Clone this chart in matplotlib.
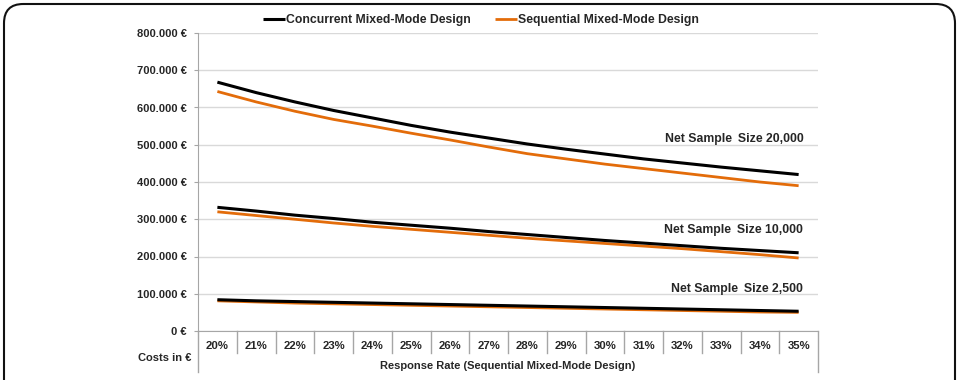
import matplotlib
matplotlib.use('Agg')
import matplotlib.pyplot as plt
from matplotlib.patches import FancyBboxPatch
from matplotlib.ticker import FuncFormatter

plt.rcParams['font.family'] = ['Liberation Sans', 'DejaVu Sans']
plt.rcParams['font.weight'] = 'bold'

# data (costs in thousand euro)
rates = ['20%', '21%', '22%', '23%', '24%', '25%', '26%', '27%',
         '28%', '29%', '30%', '31%', '32%', '33%', '34%', '35%']
conc_20k = [668, 640, 615, 592, 572, 552, 534, 518, 502, 488, 475, 462, 451, 440, 430, 420]
seq_20k  = [643, 615, 590, 568, 550, 531, 513, 494, 476, 462, 448, 436, 424, 412, 400, 390]
conc_10k = [332, 322, 311, 302, 292, 284, 276, 267, 259, 251, 243, 236, 229, 222, 216, 210]
seq_10k  = [320, 310, 300, 290, 281, 273, 265, 257, 249, 242, 235, 228, 221, 213, 205, 196]
conc_2k5 = [84, 81, 79, 77, 75, 73, 71, 69, 67, 65, 63, 61, 59, 57, 55, 53]
seq_2k5  = [81, 78, 75, 73, 71, 69, 67, 65, 63, 61, 59, 57, 55, 53, 51, 50]
groups = [('Net Sample\u2009 Size 20,000', conc_20k, seq_20k),
          ('Net Sample\u2009 Size 10,000', conc_10k, seq_10k),
          ('Net Sample\u2009 Size 2,500', conc_2k5, seq_2k5)]
# how far above the last point each group label sits (euro)
label_lift = [95000, 60000, 61000]

BLACK = '#000000'
ORANGE = '#E36C0A'
TXT = '#262626'
GRAY = '#A6A6A6'

fig = plt.figure(figsize=(9.63, 3.8), dpi=100)
W, H = 963, 380
ax = fig.add_axes([198 / W, 1 - 331 / H, 620 / W, 298 / H])

x = list(range(len(rates)))
for (label, conc, seq), lift in zip(groups, label_lift):
    ax.plot(x, [v * 1000 for v in seq], color=ORANGE, lw=2.0, solid_capstyle='butt', zorder=3)
    ax.plot(x, [v * 1000 for v in conc], color=BLACK, lw=2.2, solid_capstyle='butt', zorder=4)
    ax.text(x[-1] + 0.12, conc[-1] * 1000 + lift, label,
            ha='right', va='center', fontsize=8.8, color=TXT)

ax.set_xlim(-0.5, len(rates) - 0.5)
ax.set_ylim(0, 800000)
ax.set_yticks(range(0, 800001, 100000))
ax.yaxis.set_major_formatter(FuncFormatter(
    lambda v, p: '{:,.0f} €'.format(v).replace(',', '.')))
ax.set_xticks(x)
ax.set_xticklabels(rates)
ax.tick_params(axis='x', length=0, pad=7, labelsize=8.2, labelcolor=TXT)
ax.tick_params(axis='y', length=3, color=GRAY, pad=5, labelsize=8, labelcolor=TXT)

ax.grid(axis='y', color='#D9D9D9', lw=1)
ax.set_axisbelow(True)
for s in ['top', 'right']:
    ax.spines[s].set_visible(False)
ax.spines['left'].set_color(GRAY)
ax.spines['bottom'].set_color(GRAY)

# table-like category separators under the axis
tr = ax.get_xaxis_transform()
for i in range(1, len(rates)):
    ax.plot([i - 0.5, i - 0.5], [0, -0.074], color=GRAY, lw=1, transform=tr, clip_on=False)
ax.plot([-0.5, -0.5], [0, -0.138], color=GRAY, lw=1, transform=tr, clip_on=False)
ax.plot([len(rates) - 0.5] * 2, [0, -0.138], color=GRAY, lw=1, transform=tr, clip_on=False)

fig.text(191 / W, 1 - 358 / H, 'Costs in €', ha='right', va='center', fontsize=8, color=TXT)
fig.text(508 / W, 1 - 366 / H, 'Response Rate (Sequential Mixed-Mode Design)',
         ha='center', va='center', fontsize=8, color=TXT)

# legend
ax.legend(handles=ax.lines[1:2] + ax.lines[0:1],
          labels=['Concurrent Mixed-Mode Design', 'Sequential Mixed-Mode Design'],
          loc='center', bbox_to_anchor=(481 / W, 1 - 20 / H), bbox_transform=fig.transFigure,
          ncol=2, frameon=False, fontsize=8.8, handlelength=1.75, handletextpad=0.1,
          columnspacing=2.0, labelcolor=TXT)

# rounded outer frame
frame = FancyBboxPatch((4 / W, -0.1), 951 / W, 1 + 0.1 - 4 / H,
                       boxstyle='round,pad=0,rounding_size=0.02',
                       transform=fig.transFigure, fill=False, ec='#111111', lw=1.5,
                       mutation_aspect=W / H)
fig.patches.append(frame)

fig.savefig('out.png', dpi=100)
